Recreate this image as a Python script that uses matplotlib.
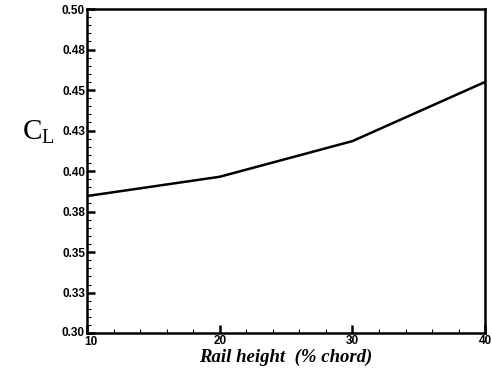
import matplotlib.pyplot as plt
import matplotlib.transforms as mtransforms
from matplotlib.ticker import MultipleLocator, FixedLocator

# data
rail_height = [10, 20, 30, 40]
cl_values = [0.3846, 0.3965, 0.4185, 0.4550]

y_ticks = [0.300, 0.325, 0.350, 0.375, 0.400, 0.425, 0.450, 0.475, 0.500]
y_labels = ['0.30', '0.33', '0.35', '0.38', '0.40', '0.43', '0.45', '0.48', '0.50']
x_ticks = [10, 20, 30, 40]

fig = plt.figure(figsize=(4.92, 3.76), dpi=100)
ax = fig.add_axes([0.177, 0.114, 0.809, 0.862])

ax.plot(rail_height, cl_values, color='black', lw=1.8)

ax.set_xlim(10, 40)
ax.set_ylim(0.30, 0.50)

ax.yaxis.set_major_locator(FixedLocator(y_ticks))
ax.set_yticklabels(y_labels)
ax.yaxis.set_minor_locator(MultipleLocator(0.005))
ax.xaxis.set_major_locator(FixedLocator(x_ticks))
ax.xaxis.set_minor_locator(MultipleLocator(2))

for s in ax.spines.values():
    s.set_linewidth(1.8)

ax.tick_params(which='both', direction='in', top=False, right=False)
ax.tick_params(which='major', length=6, width=1.8, labelsize=8.5, pad=1.5)
ax.tick_params(which='minor', length=3, width=0.8)
for lab in ax.get_xticklabels() + ax.get_yticklabels():
    lab.set_fontweight('bold')
    lab.set_family('Liberation Sans')

# nudge the corner labels apart like in the original
shift = mtransforms.ScaledTranslation(4 / 100, -1 / 100, fig.dpi_scale_trans)
first_x = ax.get_xticklabels()[0]
first_x.set_transform(first_x.get_transform() + shift)
shift_y = mtransforms.ScaledTranslation(-1 / 100, 2 / 100, fig.dpi_scale_trans)
first_y = ax.get_yticklabels()[0]
first_y.set_transform(first_y.get_transform() + shift_y)

ax.set_xlabel('Rail height  (% chord)', fontsize=13.5, fontweight='bold',
              style='italic', family='Liberation Serif', labelpad=0)
fig.text(0.045, 0.65, r'C$_\mathregular{L}$', fontsize=21,
         family='Liberation Serif', ha='left', va='center')

fig.savefig('out.png', dpi=100)
